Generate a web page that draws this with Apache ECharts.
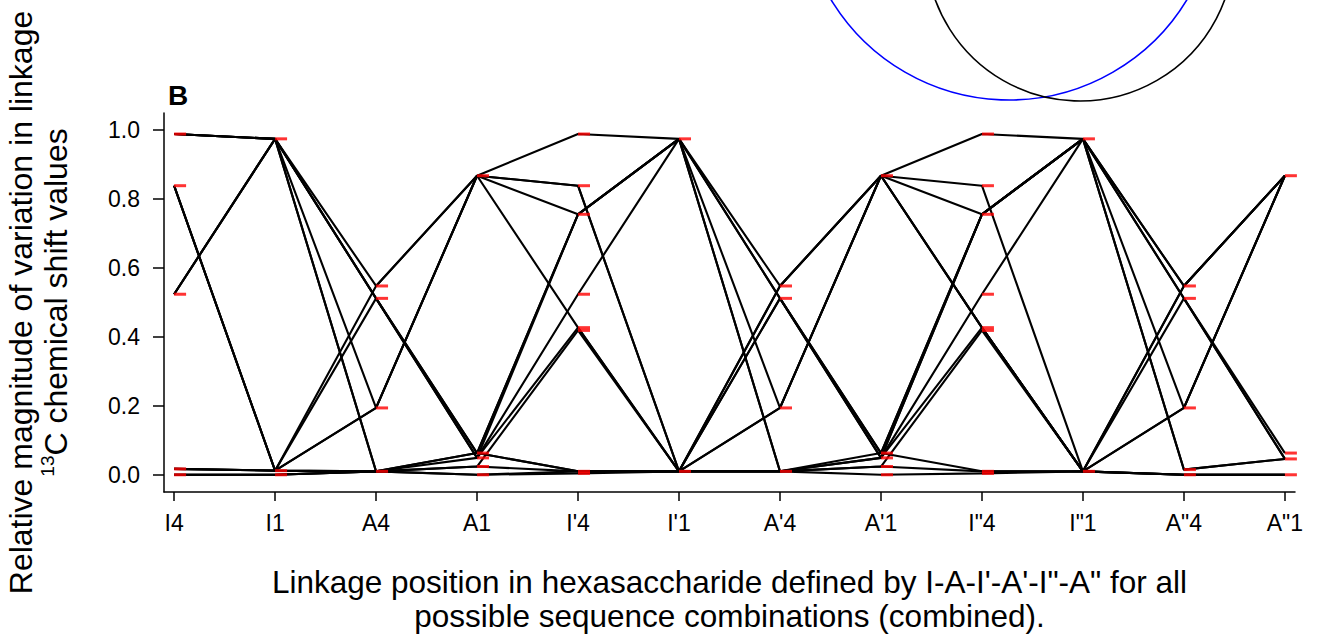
<!DOCTYPE html>
<html>
<head>
<meta charset="utf-8">
<script src="https://cdn.jsdelivr.net/npm/echarts@6/dist/echarts.min.js"></script>
<style>
  html, body { margin: 0; padding: 0; background: #fff; }
  #chart { width: 1317px; height: 639px; }
</style>
</head>
<body>
<div id="chart"></div>
<script>
// Linkage positions (x axis categories, placed at 1..12)
const positions = ["I4", "I1", "A4", "A1", "I'4", "I'1", "A'4", "A'1", "I\"4", "I\"1", "A\"4", "A\"1"];
const yTickValues = [0, 0.2, 0.4, 0.6, 0.8, 1.0];

// Relative variation values for each sequence combination, one value per linkage position
const seq01 = [0.989, 0.975, 0.548, 0.868, 0.989, 0.975, 0.512, 0.063, 0.756, 0.975, 0.512, 0.063];
const seq02 = [0.524, 0.975, 0.512, 0.049, 0.756, 0.975, 0.548, 0.868, 0.839, 0.010, 0.548, 0.868];
const seq03 = [0.839, 0.012, 0.548, 0.868, 0.839, 0.010, 0.194, 0.868, 0.427, 0.010, 0.512, 0.046];
const seq04 = [0.017, 0.012, 0.194, 0.868, 0.427, 0.010, 0.512, 0.049, 0.756, 0.975, 0.194, 0.868];
const seq05 = [0.000, 0.000, 0.010, 0.000, 0.004, 0.010, 0.010, 0.000, 0.004, 0.010, 0.000, 0.000];
const seq06 = [0.989, 0.975, 0.194, 0.868, 0.756, 0.975, 0.194, 0.868, 0.989, 0.975, 0.548, 0.868];
const seq07 = [0.524, 0.975, 0.010, 0.063, 0.010, 0.010, 0.548, 0.868, 0.427, 0.010, 0.194, 0.868];
const seq08 = [0.839, 0.012, 0.512, 0.049, 0.427, 0.010, 0.010, 0.024, 0.419, 0.010, 0.000, 0.000];
const seq09 = [0.017, 0.012, 0.010, 0.024, 0.419, 0.010, 0.512, 0.063, 0.756, 0.975, 0.015, 0.046];
const seq10 = [0.989, 0.975, 0.512, 0.063, 0.756, 0.975, 0.010, 0.049, 0.524, 0.975, 0.512, 0.046];
const seq11 = [0.000, 0.000, 0.010, 0.049, 0.524, 0.975, 0.010, 0.063, 0.010, 0.010, 0.548, 0.868];
const seq12 = [0.839, 0.012, 0.194, 0.868, 0.839, 0.010, 0.548, 0.868, 0.427, 0.010, 0.000, 0.000];
const seq13 = [0.017, 0.012, 0.010, 0.063, 0.756, 0.975, 0.512, 0.049, 0.427, 0.010, 0.194, 0.868];
const seq14 = [0.524, 0.975, 0.512, 0.063, 0.010, 0.010, 0.010, 0.049, 0.756, 0.975, 0.548, 0.868];
const seq15 = [0.989, 0.975, 0.010, 0.024, 0.010, 0.010, 0.194, 0.868, 0.756, 0.975, 0.015, 0.046];
const seq16 = [0.000, 0.000, 0.010, 0.000, 0.010, 0.010, 0.010, 0.024, 0.010, 0.010, 0.000, 0.000];

const sequences = [seq01, seq02, seq03, seq04, seq05, seq06, seq07, seq08,
                   seq09, seq10, seq11, seq12, seq13, seq14, seq15, seq16];

const FONT = "'Liberation Sans', Arial, Helvetica, sans-serif";

// line series, one per sequence
const lineSeries = sequences.map(function (seq, k) {
  return {
    name: 'seq' + (k + 1),
    type: 'line',
    data: seq.map(function (v, i) { return [i + 1, v]; }),
    symbol: 'none',
    lineStyle: { color: '#000000', width: 2.1 },
    silent: true,
    z: 2
  };
});

// red markers: unique values at each position
const markerData = [];
const seen = {};
sequences.forEach(function (seq) {
  seq.forEach(function (v, i) {
    const key = i + ':' + v;
    if (!seen[key]) { seen[key] = true; markerData.push([i + 1, v]); }
  });
});

const chart = echarts.init(document.getElementById('chart'), null, { renderer: 'svg', width: 1317, height: 639 });

chart.setOption({
  animation: false,
  backgroundColor: '#ffffff',
  title: {
    text: 'B', left: 163, top: 76,
    textStyle: { fontSize: 28, fontWeight: 'bold', color: '#000', fontFamily: FONT }
  },
  grid: { left: 164, right: 22, top: 113, bottom: 147, containLabel: false, outerBoundsMode: 'none' },
  xAxis: {
    type: 'value', min: 0.9, max: 12.1,
    axisLine: { show: true, onZero: false, lineStyle: { color: '#000', width: 1.5 } },
    axisTick: { show: true, customValues: [1,2,3,4,5,6,7,8,9,10,11,12], length: 9, lineStyle: { color: '#000', width: 1.5 } },
    axisLabel: {
      customValues: [1,2,3,4,5,6,7,8,9,10,11,12],
      formatter: function (v) { return positions[Math.round(v) - 1]; },
      fontSize: 23, color: '#000', fontFamily: FONT, margin: 19
    },
    splitLine: { show: false },
    name: 'Linkage position in hexasaccharide defined by I-A-I\'-A\'-I"-A" for all\npossible sequence combinations (combined).',
    nameLocation: 'middle', nameGap: 73,
    nameTextStyle: { fontSize: 31.5, lineHeight: 34, color: '#000', fontFamily: FONT }
  },
  yAxis: {
    type: 'value', min: -0.05, max: 1.05,
    axisLine: { show: true, lineStyle: { color: '#000', width: 1.5 } },
    axisTick: { show: true, customValues: yTickValues, length: 11, lineStyle: { color: '#000', width: 1.5 } },
    axisLabel: {
      customValues: yTickValues,
      formatter: function (v) { return v.toFixed(1); },
      fontSize: 23, color: '#000', fontFamily: FONT, margin: 24
    },
    splitLine: { show: false },
    name: 'Relative magnitude of variation in linkage\n{sup|13}C chemical shift values',
    nameLocation: 'middle', nameRotate: 90, nameGap: 91,
    nameTextStyle: {
      fontSize: 32, lineHeight: 35, color: '#000', fontFamily: FONT,
      rich: { sup: { fontSize: 19, verticalAlign: 'top', color: '#000', fontFamily: FONT, padding: [0, 0, 12, 0] } }
    }
  },
  graphic: [
    { type: 'circle', shape: { cx: 1009, cy: -108, r: 208 }, style: { fill: 'none', stroke: '#0000ff', lineWidth: 1.6 }, silent: true },
    { type: 'circle', shape: { cx: 1080, cy: -53, r: 154 }, style: { fill: 'none', stroke: '#000000', lineWidth: 1.6 }, silent: true }
  ],
  series: lineSeries.concat([{
    name: 'markers',
    type: 'scatter',
    data: markerData,
    symbol: 'rect',
    symbolSize: [12, 3],
    symbolOffset: [6, 0],
    itemStyle: { color: '#ff0000' },
    silent: true,
    z: 5
  }])
});
</script>
</body>
</html>
